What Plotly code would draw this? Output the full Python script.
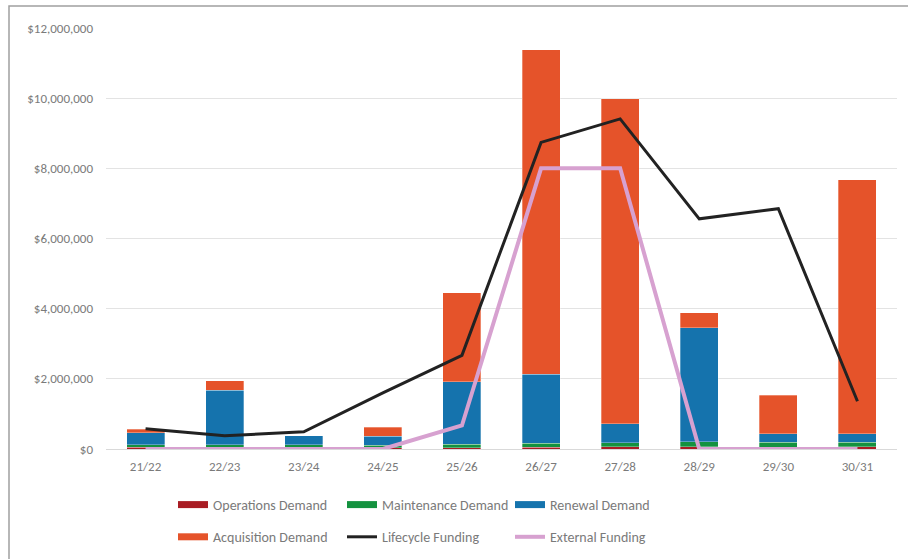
import plotly.graph_objects as go

# Financial years
years = ["21/22", "22/23", "23/24", "24/25", "25/26",
         "26/27", "27/28", "28/29", "29/30", "30/31"]

# Demand components (dollars)
operations = [50_000, 30_000, 30_000, 30_000, 40_000, 50_000, 60_000, 70_000, 50_000, 60_000]
maintenance = [70_000, 90_000, 90_000, 80_000, 100_000, 120_000, 120_000, 130_000, 140_000, 130_000]
renewal = [350_000, 1_560_000, 260_000, 250_000, 1_770_000, 1_960_000, 540_000, 3_260_000, 250_000, 250_000]
acquisition = [100_000, 260_000, 0, 260_000, 2_550_000, 9_250_000, 9_270_000, 420_000, 1_090_000, 7_230_000]

# Funding lines (dollars)
lifecycle_funding = [580_000, 380_000, 490_000, 1_600_000, 2_670_000, 8_740_000, 9_410_000, 6_560_000, 6_850_000, 1_360_000]
external_funding = [0, 0, 0, 0, 670_000, 8_000_000, 8_000_000, 0, 0, 0]

tick_vals = [0, 2_000_000, 4_000_000, 6_000_000, 8_000_000, 10_000_000, 12_000_000]
tick_text = ["$0", "$2,000,000", "$4,000,000", "$6,000,000", "$8,000,000", "$10,000,000", "$12,000,000"]

FONT = "Calibri, Carlito, Lato, sans-serif"
TEXT = "#7a7a7a"

COLORS = {
    "Operations Demand": "#A91D24",
    "Maintenance Demand": "#14923F",
    "Renewal Demand": "#1573AD",
    "Acquisition Demand": "#E5532A",
    "Lifecycle Funding": "#222222",
    "External Funding": "#D7A1D0",
}

bar_series = [
    ("Operations Demand", operations),
    ("Maintenance Demand", maintenance),
    ("Renewal Demand", renewal),
    ("Acquisition Demand", acquisition),
]

fig = go.Figure()

for name, vals in bar_series:
    fig.add_trace(go.Bar(
        x=years, y=vals, name=name, marker_color=COLORS[name],
        marker_line=dict(color="rgba(255,255,255,0.5)", width=0.6),
        showlegend=False,
    ))

fig.add_trace(go.Scatter(
    x=years, y=lifecycle_funding, name="Lifecycle Funding", mode="lines",
    line=dict(color=COLORS["Lifecycle Funding"], width=3), showlegend=False,
))
fig.add_trace(go.Scatter(
    x=years, y=external_funding, name="External Funding", mode="lines",
    line=dict(color=COLORS["External Funding"], width=4), showlegend=False,
))

# Legend swatches laid out in three columns of two rows
legend_layout = [
    ("Operations Demand", "legend", 7),
    ("Acquisition Demand", "legend", 7),
    ("Maintenance Demand", "legend2", 7),
    ("Lifecycle Funding", "legend2", 3),
    ("Renewal Demand", "legend3", 7),
    ("External Funding", "legend3", 4),
]
for name, lg, w in legend_layout:
    fig.add_trace(go.Scatter(
        x=[None], y=[None], name=name, mode="lines",
        line=dict(color=COLORS[name], width=w),
        legend=lg, legendgroup=name,
    ))

W, H = 908, 559
L, R, T, B = 106, 11, 28, 110
pw, ph = W - L - R, H - T - B


def px_x(x):
    return (x - L) / pw


def px_y(y):
    return (H - B - y) / ph


def column_legend(x_px):
    return dict(
        orientation="v", traceorder="grouped", tracegroupgap=11,
        x=px_x(x_px), y=px_y(489), xanchor="left", yanchor="top",
        font=dict(family=FONT, size=14, color=TEXT),
        bgcolor="rgba(0,0,0,0)", itemclick=False, itemdoubleclick=False,
    )


fig.update_layout(
    width=W, height=H,
    margin=dict(l=L, r=R, t=T, b=B, autoexpand=False),
    paper_bgcolor="white", plot_bgcolor="white",
    barmode="stack", bargap=0.52,
    font=dict(family=FONT, size=13, color=TEXT),
    legend=column_legend(173),
    legend2=column_legend(342),
    legend3=column_legend(510),
    xaxis=dict(
        type="category", showgrid=False, showline=True,
        linecolor="#d9d9d9", linewidth=1, ticks="",
        tickfont=dict(family=FONT, size=13, color=TEXT),
        ticklabelstandoff=5,
    ),
    yaxis=dict(
        range=[0, 12_000_000], tickvals=tick_vals, ticktext=tick_text,
        showgrid=True, gridcolor="#e3e3e3", gridwidth=1,
        zeroline=False, showline=False, ticks="",
        tickfont=dict(family=FONT, size=13, color=TEXT),
        ticklabelstandoff=12,
    ),
    shapes=[dict(
        type="rect", xref="paper", yref="paper",
        x0=px_x(9), x1=px_x(915), y0=px_y(566), y1=px_y(6),
        line=dict(color="#a0a0a0", width=1.5), fillcolor="rgba(0,0,0,0)",
        layer="below",
    )],
)

fig.write_html("out.html")
